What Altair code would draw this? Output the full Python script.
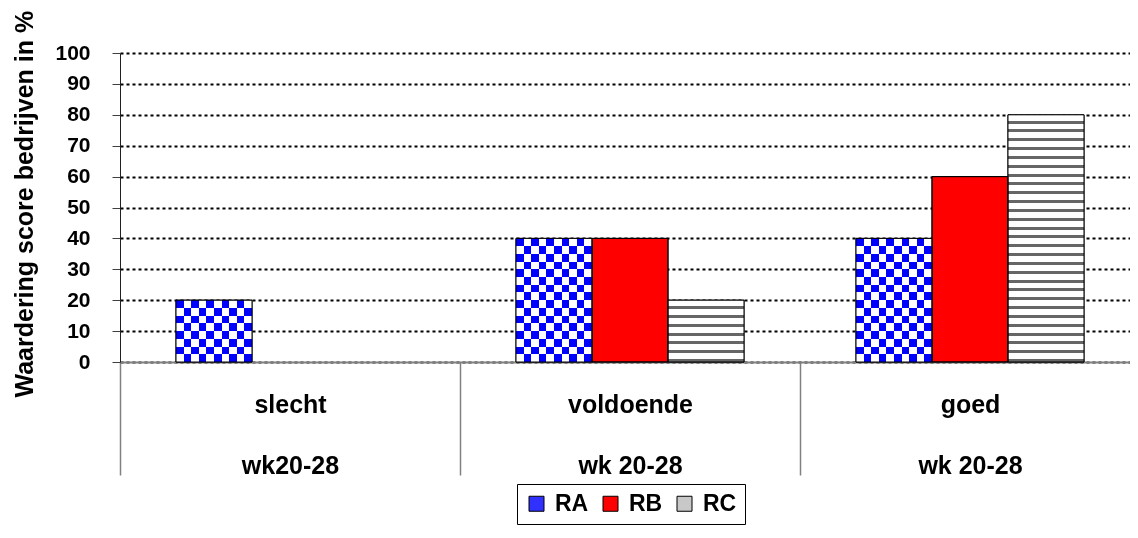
import altair as alt
import pandas as pd

# ---------------- data ----------------
categories = ["slecht", "voldoende", "goed"]
periods = ["wk20-28", "wk 20-28", "wk 20-28"]
series_names = ["RA", "RB", "RC"]
ra_values = [20, 40, 40]
rb_values = [0, 40, 60]
rc_values = [0, 20, 80]
y_ticks = list(range(0, 101, 10))
y_title = "Waardering score bedrijven in %"

labels = [f"{c}|{p}" for c, p in zip(categories, periods)]
rows = []
for lab, a, b, c in zip(labels, ra_values, rb_values, rc_values):
    for s, v in zip(series_names, (a, b, c)):
        rows.append({"cat": lab, "series": s, "value": v})
df = pd.DataFrame(rows)

# ---------------- layout / style ----------------
PLOT_W, PLOT_H = 1010, 309
BAND_RANGE = 1020
PX_PER_UNIT = PLOT_H / 100.0
CELL = 7.7      # checker cell size in px
WAVE = 8.8      # wave period in px
FONT = "Liberation Sans"


def stripe_gradient(colors, n, along_x):
    stops = []
    for i in range(n):
        col = colors[i % len(colors)]
        stops.append({"offset": i / n, "color": col})
        stops.append({"offset": (i + 1) / n, "color": col})
    return {"gradient": "linear", "stops": stops,
            "x1": 0, "y1": 0,
            "x2": 1 if along_x else 0, "y2": 0 if along_x else 1}


def wave_gradient(n, light="#ffffff", dark="#666666", frac=0.66):
    stops = []
    for i in range(n):
        a, b = i / n, (i + frac) / n
        c = (i + 1) / n
        stops += [{"offset": a, "color": light}, {"offset": b, "color": light},
                  {"offset": b, "color": dark}, {"offset": c, "color": dark}]
    return {"gradient": "linear", "stops": stops, "x1": 0, "y1": 0, "x2": 0, "y2": 1}


x_enc = alt.X(
    "cat:N", sort=labels,
    scale=alt.Scale(domain=labels, range=[0, BAND_RANGE], paddingInner=0, paddingOuter=0),
    axis=alt.Axis(
        title=None, labelExpr="split(datum.label, '|')", tickBand="extent",
        ticks=True, tickSize=113, tickColor="#808080", tickWidth=1.5,
        domainColor="#808080", domainWidth=2,
        labelFontSize=25, labelFontWeight="bold", labelColor="black",
        labelLineHeight=61, labelPadding=-83, labelAngle=0, grid=False,
    ),
)
y_enc = alt.Y(
    "value:Q",
    scale=alt.Scale(domain=[0, 100], nice=False),
    axis=alt.Axis(
        title=y_title, values=y_ticks, grid=True, gridColor="black",
        gridDash=[3, 3], gridWidth=2,
        domainColor="#202020", domainWidth=1,
        tickColor="#404040", tickSize=8, tickWidth=1,
        labelFontSize=21, labelFontWeight="bold", labelColor="black", labelPadding=22,
        titleFontSize=25, titleFontWeight="bold", titleColor="black",
        titleAngle=270, titleAlign="left", titleBaseline="alphabetic",
        titleX=-88, titleY=344,
    ),
)
xo_enc = alt.XOffset(
    "series:N",
    scale=alt.Scale(domain=series_names, paddingInner=0, paddingOuter=0.737),
)

base = alt.Chart().transform_filter(alt.datum.value > 0)

layers = []
# base bars (give the legend)
layers.append(
    base.mark_bar(stroke="black", strokeWidth=1).encode(
        x=x_enc, xOffset=xo_enc, y=y_enc,
        color=alt.Color(
            "series:N",
            scale=alt.Scale(domain=series_names, range=["#3030ff", "#ff0000", "#c8c8c8"]),
            legend=alt.Legend(
                title=None, orient="none", legendX=397, legendY=431,
                direction="horizontal", symbolType="square", symbolSize=225,
                symbolStrokeColor="black", symbolStrokeWidth=1, symbolOpacity=1,
                labelFontSize=23, labelFontWeight="bold", labelColor="black",
                labelOffset=7, columnPadding=10, padding=8,
                strokeColor="black",
            ),
        ),
    )
)

# RA checker pattern: vertical blue/white stripes, then XOR with horizontal stripes
ra_cols = max(1, round(76 / CELL))
vert = stripe_gradient(["#0000ff", "#ffffff"], ra_cols, True)
layers.append(
    base.transform_filter(alt.datum.series == "RA")
    .mark_bar(fill=vert, strokeOpacity=0)
    .encode(x=x_enc, xOffset=xo_enc, y=y_enc)
)
for lab, v in zip(labels, ra_values):
    if v <= 0:
        continue
    n_rows = max(1, round(v * PX_PER_UNIT / CELL))
    horiz = stripe_gradient(["#000000", "#ffff00"], n_rows, False)
    layers.append(
        base.transform_filter((alt.datum.series == "RA") & (alt.datum.cat == lab))
        .mark_bar(fill=horiz, blend="difference", strokeOpacity=0)
        .encode(x=x_enc, xOffset=xo_enc, y=y_enc)
    )

# RC wave pattern
for lab, v in zip(labels, rc_values):
    if v <= 0:
        continue
    n_w = max(1, round(v * PX_PER_UNIT / WAVE))
    layers.append(
        base.transform_filter((alt.datum.series == "RC") & (alt.datum.cat == lab))
        .mark_bar(fill=wave_gradient(n_w), strokeOpacity=0)
        .encode(x=x_enc, xOffset=xo_enc, y=y_enc)
    )

# outlines on top
layers.append(
    base.mark_bar(fillOpacity=0, stroke="black", strokeWidth=1)
    .encode(x=x_enc, xOffset=xo_enc, y=y_enc)
)

chart = (
    alt.layer(*layers, data=df)
    .properties(
        width=PLOT_W, height=PLOT_H,
        autosize=alt.AutoSizeParams(type="none"),
        padding={"left": 112, "top": 45, "right": 0, "bottom": 163},
    )
    .configure(font=FONT)
    .configure_view(stroke=None)
)

chart.save("out.html", embed_options={"renderer": "svg", "actions": False})
